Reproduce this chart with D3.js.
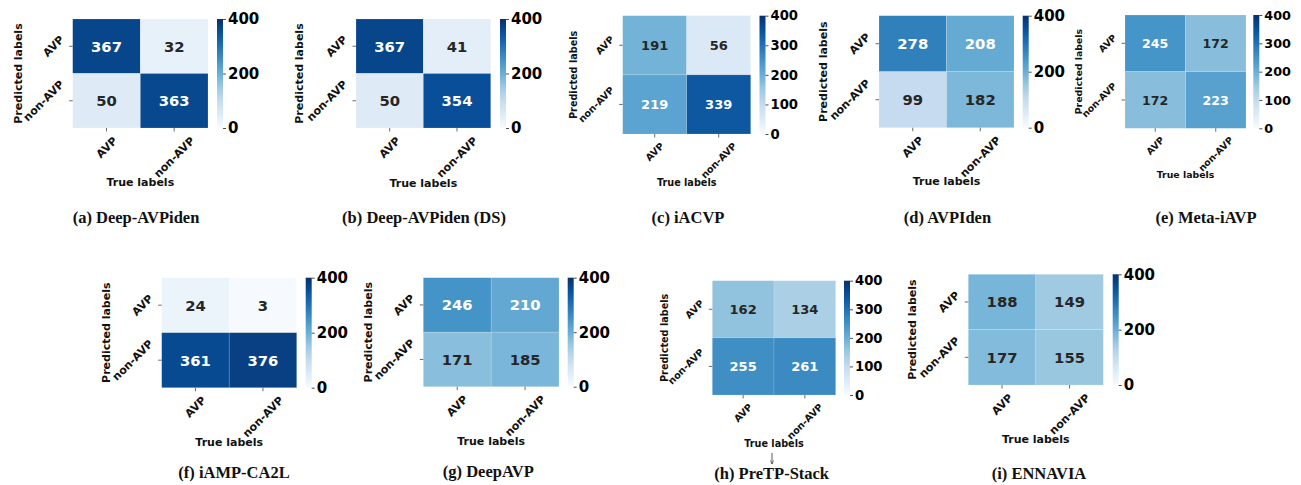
<!DOCTYPE html>
<html>
<head>
<meta charset="utf-8">
<script src="https://cdn.jsdelivr.net/npm/d3@7"></script>
<style>
	body { margin: 0; background: #fff; }
	svg text { font-family: "DejaVu Sans", sans-serif; font-weight: bold; }
	svg text.caption { font-family: "Liberation Serif", "Times New Roman", serif; }
</style>
</head>
<body>
<svg id="chart"></svg>
<script>
// rows = predicted, columns = true
const classLabels = ['AVP', 'non-AVP'];

const deepAvpiden   = [[367, 32], [50, 363]];
const deepAvpidenDs = [[367, 41], [50, 354]];
const iacvp         = [[191, 56], [219, 339]];
const avpiden       = [[278, 208], [99, 182]];
const metaIavp      = [[245, 172], [172, 223]];
const iampCa2l      = [[24, 3], [361, 376]];
const deepAvp       = [[246, 210], [171, 185]];
const pretpStack    = [[162, 134], [255, 261]];
const ennavia       = [[188, 149], [177, 155]];

const captions = ['(a) Deep-AVPiden', '(b) Deep-AVPiden (DS)', '(c) iACVP', '(d) AVPIden',
	'(e) Meta-iAVP', '(f) iAMP-CA2L', '(g) DeepAVP', '(h) PreTP-Stack', '(i) ENNAVIA'];
const matrices = [deepAvpiden, deepAvpidenDs, iacvp, avpiden, metaIavp, iampCa2l, deepAvp, pretpStack, ennavia];

const ticksBy200 = [0, 200, 400];
const ticksBy100 = [0, 100, 200, 300, 400];
const colorMax = 400;

// matplotlib "Blues"
const blues = ['#f7fbff', '#deebf7', '#c6dbef', '#9ecae1', '#6baed6', '#4292c6', '#2171b5', '#08519c', '#08306b'];

// where each panel sits on the page
const panels = [
	{x0: 72.7, x1: 208, y0: 19, y1: 128, cb: 217, ylab: 21.5, xlab: 186, capX: 136, capY: 222.5, s: 1, ticks: ticksBy200},
	{x0: 356, x1: 490.7, y0: 19, y1: 128, cb: 500, ylab: 303.3, xlab: 187, capX: 424, capY: 222.5, s: 1, ticks: ticksBy200},
	{x0: 622.7, x1: 750.7, y0: 15.7, y1: 134, cb: 759.5, ylab: 577.3, xlab: 186, capX: 688, capY: 222.5, s: 0.88, ticks: ticksBy100},
	{x0: 879, x1: 1014, y0: 15.7, y1: 127.7, cb: 1022.7, ylab: 826.7, xlab: 185, capX: 947.5, capY: 222.5, s: 1, ticks: ticksBy200},
	{x0: 1125, x1: 1246, y0: 15, y1: 128.3, cb: 1253.3, ylab: 1081.7, xlab: 178, capX: 1206, capY: 222.5, s: 0.85, ticks: ticksBy100},
	{x0: 161.7, x1: 296.7, y0: 277.7, y1: 387.7, cb: 305.7, ylab: 110, xlab: 445.5, capX: 234, capY: 478, s: 1, ticks: ticksBy200},
	{x0: 423.3, x1: 559, y0: 277.7, y1: 386.7, cb: 567.7, ylab: 372.3, xlab: 445, capX: 488.3, capY: 477, s: 1, ticks: ticksBy200},
	{x0: 712.3, x1: 835.7, y0: 280.7, y1: 395, cb: 844, ylab: 668.3, xlab: 447, capX: 771.7, capY: 479, s: 0.88, ticks: ticksBy100},
	{x0: 968.3, x1: 1103.3, y0: 274.3, y1: 385, cb: 1112.7, ylab: 916, xlab: 443, capX: 1039, capY: 478.5, s: 1, ticks: ticksBy200}
];

function luminance(c) {
	let rgb = d3.rgb(c);
	let lin = [rgb.r, rgb.g, rgb.b].map(v => {
		v = v / 255;
		return v <= 0.03928 ? v / 12.92 : Math.pow((v + 0.055) / 1.055, 2.4);
	});
	return 0.2126 * lin[0] + 0.7152 * lin[1] + 0.0722 * lin[2];
}

function makeChart() {
	let w = 1301;
	let h = 485;

	let chart = d3.select('#chart')
		.attr('width', w)
		.attr('height', h);

	let color = d3.scaleLinear()
		.domain(blues.map((c, i) => i * colorMax / (blues.length - 1)))
		.range(blues);

	let defs = chart.append('defs');
	let grad = defs.append('linearGradient')
		.attr('id', 'bluesGrad')
		.attr('x1', 0).attr('y1', 1)
		.attr('x2', 0).attr('y2', 0);
	grad.selectAll('stop')
		.data(blues)
		.enter()
		.append('stop')
		.attr('offset', (d, i) => i / (blues.length - 1))
		.attr('stop-color', d => d);

	panels.forEach((p, k) => {
		let data = matrices[k];
		let g = chart.append('g');
		let s = p.s;

		let x = d3.scaleBand().domain(classLabels).range([p.x0, p.x1]);
		let y = d3.scaleBand().domain(classLabels).range([p.y0, p.y1]);

		let cells = [];
		data.forEach((row, i) => row.forEach((v, j) => cells.push({r: classLabels[i], c: classLabels[j], v: v})));

		g.selectAll('rect.cell')
			.data(cells)
			.enter()
			.append('rect')
			.classed('cell', true)
			.attr('x', d => x(d.c))
			.attr('y', d => y(d.r))
			.attr('width', x.bandwidth())
			.attr('height', y.bandwidth())
			.style('fill', d => color(d.v))
			.style('stroke', 'rgba(255,255,255,0.25)')
			.style('stroke-width', 0.6);

		g.selectAll('text.annot')
			.data(cells)
			.enter()
			.append('text')
			.classed('annot', true)
			.attr('x', d => x(d.c) + x.bandwidth() / 2)
			.attr('y', d => y(d.r) + y.bandwidth() / 2)
			.attr('dy', '0.36em')
			.style('text-anchor', 'middle')
			.style('font-size', (14.8 * s) + 'px')
			.style('fill', d => luminance(color(d.v)) > 0.408 ? '#262626' : '#ffffff')
			.text(d => d.v);

		// heatmap axes
		let tickLen = 3.5;
		let labSize = 11 * s;
		let xAxis = g.append('g')
			.attr('transform', `translate(0,${p.y1})`)
			.call(d3.axisBottom(x).tickSize(tickLen));
		let yAxis = g.append('g')
			.attr('transform', `translate(${p.x0},0)`)
			.call(d3.axisLeft(y).tickSize(tickLen));
		[xAxis, yAxis].forEach(a => {
			a.select('.domain').remove();
			a.selectAll('.tick line').style('stroke', '#444').style('stroke-width', 0.8);
			a.selectAll('.tick text')
				.attr('x', 0).attr('y', 0).attr('dy', '0.35em')
				.style('text-anchor', 'middle')
				.style('font-size', labSize + 'px')
				.style('fill', '#111');
		});
		xAxis.selectAll('.tick text').attr('transform', function () {
			let half = (this.getComputedTextLength() + labSize * 0.95) * Math.SQRT1_2 / 2;
			return `translate(0,${tickLen + 3.5 + half}) rotate(-45)`;
		});
		yAxis.selectAll('.tick text').attr('transform', function () {
			let half = (this.getComputedTextLength() + labSize * 0.95) * Math.SQRT1_2 / 2;
			return `translate(${-(tickLen + 3.5 + half)},0) rotate(-45)`;
		});

		g.append('text')
			.attr('transform', `translate(${p.ylab},${(p.y0 + p.y1) / 2}) rotate(-90)`)
			.style('text-anchor', 'middle')
			.style('font-size', labSize + 'px')
			.style('fill', '#111')
			.text('Predicted labels');

		g.append('text')
			.attr('x', (p.x0 + p.x1) / 2)
			.attr('y', p.xlab)
			.style('text-anchor', 'middle')
			.style('font-size', labSize + 'px')
			.style('fill', '#111')
			.text('True labels');

		// colour bar
		let cbW = 6;
		let cbScale = d3.scaleLinear().domain([0, colorMax]).range([p.y1, p.y0]);
		g.append('rect')
			.attr('x', p.cb)
			.attr('y', p.y0)
			.attr('width', cbW)
			.attr('height', p.y1 - p.y0)
			.style('fill', 'url(#bluesGrad)');
		let cbAxis = g.append('g')
			.attr('transform', `translate(${p.cb + cbW},0)`)
			.call(d3.axisRight(cbScale).tickValues(p.ticks).tickSize(3).tickPadding(2));
		cbAxis.select('.domain').remove();
		cbAxis.selectAll('.tick line').style('stroke', '#222').style('stroke-width', 0.8);
		cbAxis.selectAll('.tick text')
			.style('font-size', (15 * s) + 'px')
			.style('fill', '#000');

		g.append('text')
			.classed('caption', true)
			.attr('x', p.capX)
			.attr('y', p.capY)
			.style('text-anchor', 'middle')
			.style('font-size', '16.5px')
			.style('fill', '#111')
			.text(captions[k]);
	});

	// small arrow under panel (h)
	let ph = panels[7];
	let ax = (ph.x0 + ph.x1) / 2 - 2;
	defs.append('marker')
		.attr('id', 'arrowHead')
		.attr('viewBox', '0 0 10 10')
		.attr('refX', 9).attr('refY', 5)
		.attr('markerWidth', 5).attr('markerHeight', 5)
		.attr('orient', 'auto')
		.append('path')
		.attr('d', 'M0,1 L10,5 L0,9')
		.style('fill', 'none')
		.style('stroke', '#333')
		.style('stroke-width', 1.5);
	chart.append('line')
		.attr('x1', ax).attr('y1', ph.xlab + 6)
		.attr('x2', ax).attr('y2', ph.xlab + 17)
		.style('stroke', '#333')
		.style('stroke-width', 0.8)
		.attr('marker-end', 'url(#arrowHead)');
}

window.onload = function () {
	makeChart();
}
</script>
</body>
</html>
